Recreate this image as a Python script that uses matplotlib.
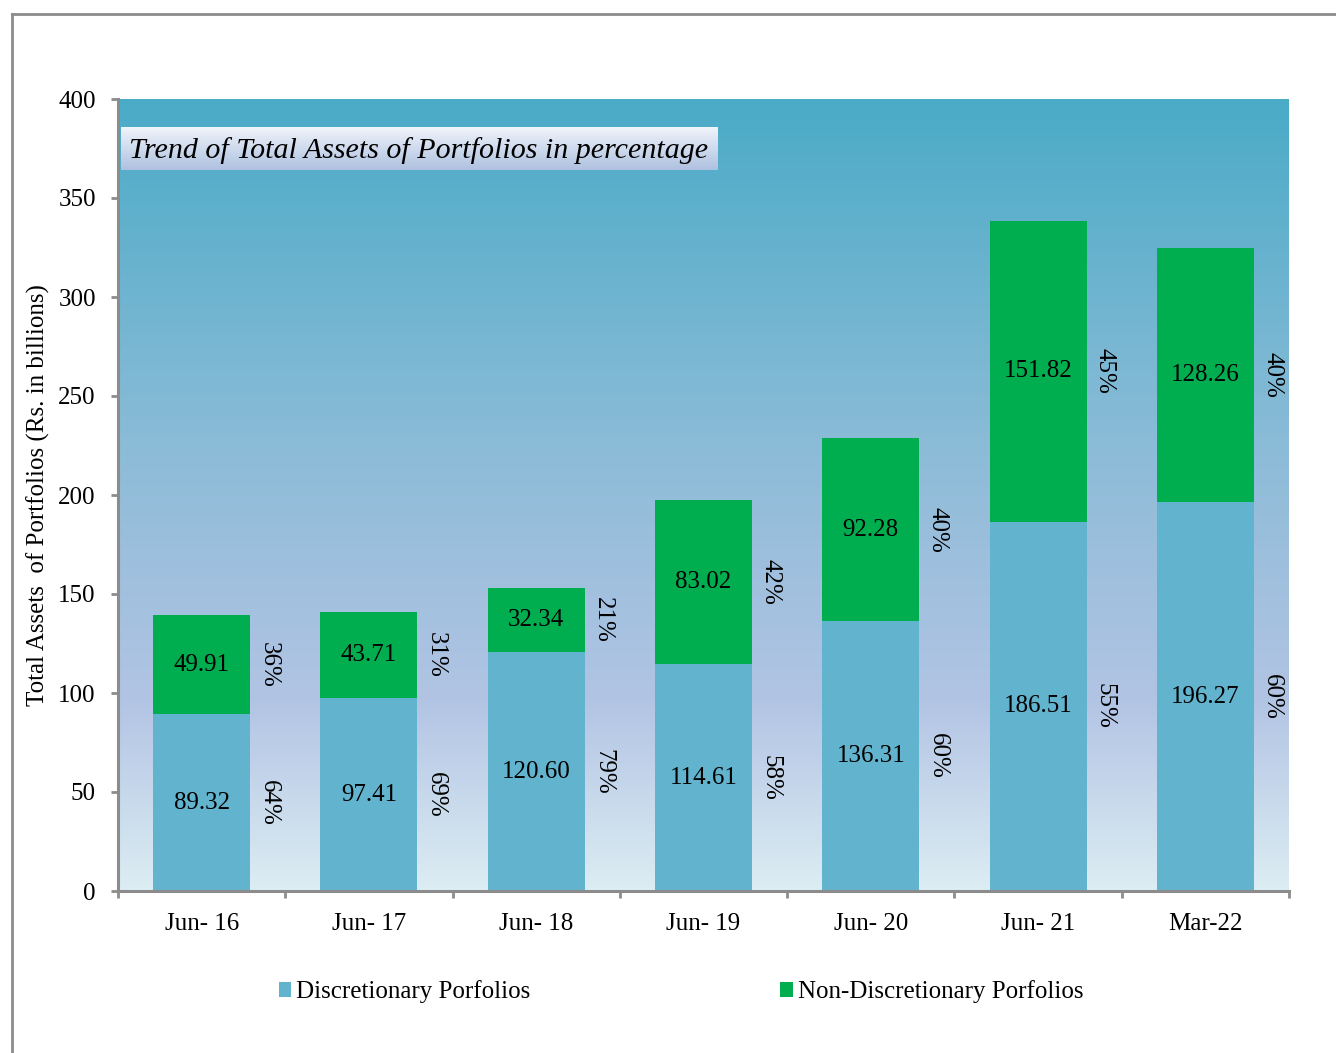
import numpy as np
import matplotlib
matplotlib.use("Agg")
import matplotlib.pyplot as plt
from matplotlib.colors import LinearSegmentedColormap
from matplotlib.lines import Line2D

# data
periods = ["Jun- 16", "Jun- 17", "Jun- 18", "Jun- 19", "Jun- 20", "Jun- 21", "Mar-22"]
discretionary = [89.32, 97.41, 120.60, 114.61, 136.31, 186.51, 196.27]
non_discretionary = [49.91, 43.71, 32.34, 83.02, 92.28, 151.82, 128.26]
disc_pct = ["64%", "69%", "79%", "58%", "60%", "55%", "60%"]
nondisc_pct = ["36%", "31%", "21%", "42%", "40%", "45%", "40%"]
y_ticks = [0, 50, 100, 150, 200, 250, 300, 350, 400]

plt.rcParams["font.family"] = ["Liberation Serif", "DejaVu Serif"]

disc_color = "#62b3cd"
nondisc_color = "#00ae4f"
axis_gray = "#8c8c8c"
fs = 18

fig = plt.figure(figsize=(13.36, 10.53), dpi=100)
ax = fig.add_axes([118 / 1336, 1 - 891 / 1053, 1171 / 1336, 792 / 1053])

# gradient plot background
bg_cmap = LinearSegmentedColormap.from_list(
    "bg", [(0.0, "#dcedf3"), (0.24, "#b2c4e4"), (0.55, "#8dbcd8"), (1.0, "#4aabc7")])
grad = np.linspace(0, 1, 256).reshape(-1, 1)
ax.imshow(grad, cmap=bg_cmap, origin="lower", aspect="auto",
          extent=[-0.5, len(periods) - 0.5, 0, 400], zorder=0)

x = np.arange(len(periods))
w = 0.58
b1 = ax.bar(x, discretionary, w, color=disc_color, zorder=2,
            label="Discretionary Porfolios")
b2 = ax.bar(x, non_discretionary, w, bottom=discretionary, color=nondisc_color,
            zorder=2, label="Non-Discretionary Porfolios")

for i in range(len(periods)):
    d = discretionary[i]
    n = non_discretionary[i]
    ax.text(x[i], d / 2, f"{d:.2f}", ha="center", va="center", fontsize=fs, zorder=3)
    ax.text(x[i], d + n / 2, f"{n:.2f}", ha="center", va="center", fontsize=fs, zorder=3)
    ax.text(x[i] + 0.40, d / 2, disc_pct[i], rotation=-90, ha="center", va="center",
            fontsize=fs, zorder=3)
    ax.text(x[i] + 0.40, d + n / 2, nondisc_pct[i], rotation=-90, ha="center",
            va="center", fontsize=fs, zorder=3)

ax.set_xlim(-0.5, len(periods) - 0.5)
ax.set_ylim(0, 400)
ax.set_yticks(y_ticks)
ax.set_xticks(x)
ax.set_xticklabels(periods)
ax.set_xticks(np.arange(-0.5, len(periods), 1.0), minor=True)
ax.tick_params(axis="x", which="major", length=0, pad=16, labelsize=fs)
ax.tick_params(axis="x", which="minor", length=5, width=2, color=axis_gray, direction="out")
ax.tick_params(axis="y", length=5, width=2, color=axis_gray, pad=11, labelsize=fs)

for s in ["top", "right"]:
    ax.spines[s].set_visible(False)
for s in ["left", "bottom"]:
    ax.spines[s].set_color(axis_gray)
    ax.spines[s].set_linewidth(2.2)

ax.set_ylabel("Total Assets  of Portfolios (Rs. in billions)", fontsize=fs, labelpad=6)

# title box with its own gradient
tax = fig.add_axes([121 / 1336, 1 - 170 / 1053, 596 / 1336, 43 / 1053])
box_cmap = LinearSegmentedColormap.from_list("box", ["#aec1e0", "#f2f5fb"])
tax.imshow(grad, cmap=box_cmap, origin="lower", aspect="auto", extent=[0, 1, 0, 1])
tax.set_xlim(0, 1)
tax.set_ylim(0, 1)
tax.axis("off")
tax.text(0.014, 0.46, "Trend of Total Assets of Portfolios in percentage",
         fontsize=21.6, style="italic", ha="left", va="center")

fig.legend(handles=[b1, b2], loc="center", bbox_to_anchor=(681 / 1336, 1 - 992 / 1053),
           ncol=2, frameon=False, fontsize=fs, handlelength=0.5, handleheight=0.5,
           handletextpad=0.2, columnspacing=10.0)

# outer frame (left and top edges visible)
fig.add_artist(Line2D([12 / 1336, 12 / 1336], [0, 1 - 14 / 1053], color=axis_gray, lw=2))
fig.add_artist(Line2D([12 / 1336, 1], [1 - 14 / 1053, 1 - 14 / 1053], color=axis_gray, lw=2))

fig.savefig("out.png", dpi=100)
